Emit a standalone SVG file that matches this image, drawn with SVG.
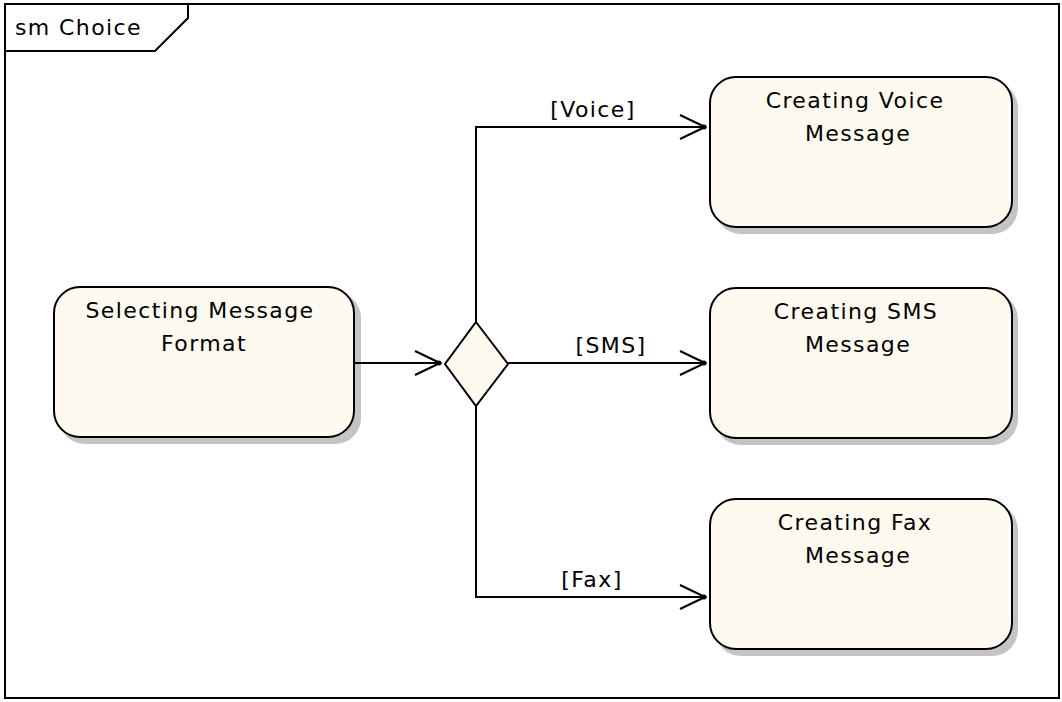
<svg xmlns="http://www.w3.org/2000/svg" width="1062" height="702" viewBox="0 0 1062 702">
<style>
text{font-family:"DejaVu Sans","Liberation Sans",sans-serif;font-size:22px;letter-spacing:1.4px;fill:#000}
.state{fill:#FEFAF0;stroke:#000;stroke-width:2}
.shadow{fill:#C4C4C4;stroke:none}
.edge{fill:none;stroke:#000;stroke-width:2}
.lbl{text-anchor:middle}
</style>
<defs>
<marker id="open" viewBox="0 0 28 28" refX="26" refY="14" markerWidth="28" markerHeight="28" markerUnits="userSpaceOnUse" orient="auto">
<path d="M1 2 L26 14 L1 26" fill="none" stroke="#000" stroke-width="2"/>
<circle cx="25" cy="14" r="2.5" fill="#000"/>
</marker>
</defs>
<rect width="1062" height="702" fill="#fff"/>
<g id="frame">
<rect x="5" y="4" width="1054" height="694" fill="none" stroke="#000" stroke-width="2"/>
<path d="M5 51 H155 L188 18 V4" fill="none" stroke="#000" stroke-width="2"/>
<text x="15" y="35">sm Choice</text>
</g>
<g id="selecting">
<rect class="shadow" x="59" y="292" width="302" height="152" rx="26"/>
<rect class="state" x="54" y="287" width="300" height="150" rx="26"/>
<text class="lbl" x="200" y="318">Selecting Message</text>
<text class="lbl" x="204" y="351">Format</text>
</g>
<g id="voice">
<rect class="shadow" x="715" y="82" width="303" height="152" rx="26"/>
<rect class="state" x="710" y="77" width="302" height="150" rx="26"/>
<text class="lbl" x="855" y="108">Creating Voice</text>
<text class="lbl" x="858" y="141">Message</text>
</g>
<g id="sms">
<rect class="shadow" x="715" y="293" width="303" height="152" rx="26"/>
<rect class="state" x="710" y="288" width="302" height="150" rx="26"/>
<text class="lbl" x="856" y="319">Creating SMS</text>
<text class="lbl" x="858" y="352">Message</text>
</g>
<g id="fax">
<rect class="shadow" x="715" y="504" width="303" height="152" rx="26"/>
<rect class="state" x="710" y="499" width="302" height="150" rx="26"/>
<text class="lbl" x="855" y="530">Creating Fax</text>
<text class="lbl" x="858" y="563">Message</text>
</g>
<g id="connectors">
<path class="edge" d="M355 363 H440" marker-end="url(#open)"/>
<path class="edge" d="M476 322 V127 H705" marker-end="url(#open)"/>
<path class="edge" d="M508 363 H705" marker-end="url(#open)"/>
<path class="edge" d="M476 406 V597 H705" marker-end="url(#open)"/>
<text class="lbl" x="593" y="117">[Voice]</text>
<text class="lbl" x="611" y="353">[SMS]</text>
<text class="lbl" x="592" y="587">[Fax]</text>
</g>
<g id="choice">
<path d="M476 322 L508 364 L476 406 L445 364 Z" fill="#FEFAF0" stroke="#000" stroke-width="2"/>
</g>
</svg>
